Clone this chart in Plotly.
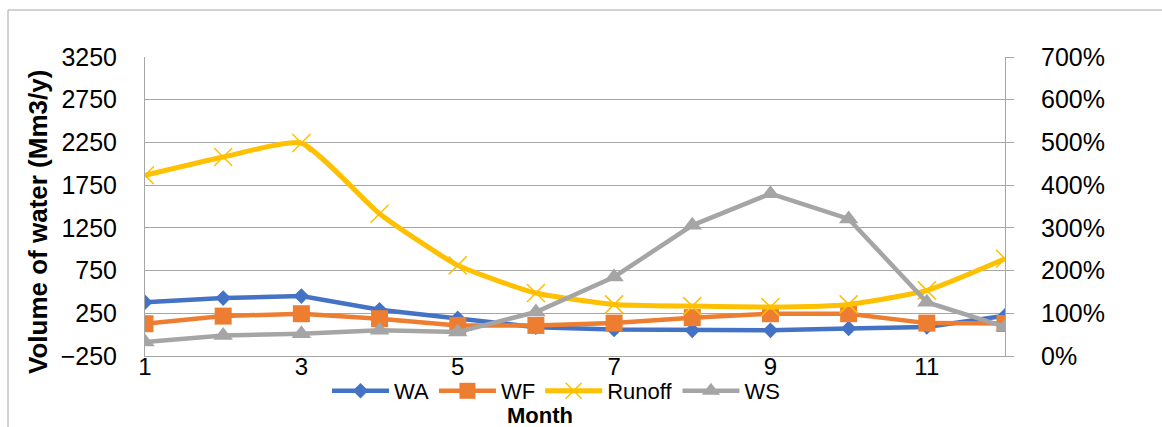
import plotly.graph_objects as go

# Monthly water balance values
months = [1, 2, 3, 4, 5, 6, 7, 8, 9, 10, 11, 12]
wa = [380, 428, 451, 292, 190, 88, 61, 50, 50, 73, 90, 220]            # Mm3/y
wf = [128, 217, 245, 187, 108, 108, 135, 199, 245, 245, 135, 130]      # Mm3/y
runoff = [1865, 2079, 2243, 1416, 811, 487, 354, 334, 323, 354, 518, 889]  # Mm3/y
ws = [33, 48, 52, 60, 56, 103, 185, 306, 380, 321, 126, 68]            # percent

left_ticks = [-250, 250, 750, 1250, 1750, 2250, 2750, 3250]
right_ticks = [0, 100, 200, 300, 400, 500, 600, 700]
right_labels = [f"{v}%" for v in right_ticks]
x_ticks = [1, 3, 5, 7, 9, 11]

W, H = 1162, 427
ML, MR, MT, MB = 145, 157, 57, 71
PW, PH = W - ML - MR, H - MT - MB


def px(x):
    return (x - ML) / PW


def py(y):
    return 1 - (y - MT) / PH


FONT = "Liberation Sans, Arial, sans-serif"
GRID = "#A6A6A6"

fig = go.Figure()
fig.add_trace(go.Scatter(
    x=months, y=wa, name="WA", mode="lines+markers",
    line=dict(color="#4472C4", width=4.5),
    marker=dict(symbol="diamond", size=12, color="#4472C4"),
))
fig.add_trace(go.Scatter(
    x=months, y=wf, name="WF", mode="lines+markers",
    line=dict(color="#ED7D31", width=4.5),
    marker=dict(symbol="square", size=17, color="#ED7D31"),
))
fig.add_trace(go.Scatter(
    x=months, y=runoff, name="Runoff", mode="lines+markers",
    line=dict(color="#FFC000", width=5, shape="spline", smoothing=0.5),
    marker=dict(symbol="x-thin", size=18, color="#FFC000",
                line=dict(color="#FFC000", width=1.5)),
))
fig.add_trace(go.Scatter(
    x=months, y=ws, name="WS", mode="lines+markers", yaxis="y2",
    line=dict(color="#A5A5A5", width=4.5),
    marker=dict(symbol="triangle-up", size=17, color="#A5A5A5"),
))

# outer chart frame
frame = (f"M {px(8)} {py(H + 5)} L {px(8)} {py(10)} L {px(W + 5)} {py(10)}")

fig.update_layout(
    width=W, height=H,
    margin=dict(l=ML, r=MR, t=MT, b=MB),
    paper_bgcolor="white", plot_bgcolor="white",
    font=dict(family=FONT, color="black", size=25),
    showlegend=True,
    legend=dict(orientation="h", x=px(556), y=py(391), xanchor="center",
                yanchor="middle", font=dict(size=22), itemwidth=57,
                tracegroupgap=0, bgcolor="rgba(0,0,0,0)"),
    xaxis=dict(range=[1, 12], tickvals=x_ticks, showgrid=False,
               zeroline=False, showline=True, linecolor=GRID, linewidth=1,
               ticks="", ticklabelstandoff=-11, tickfont=dict(size=24)),
    yaxis=dict(range=[-250, 3250], tickvals=left_ticks, showgrid=True,
               gridcolor=GRID, gridwidth=1, zeroline=False, showline=True,
               linecolor=GRID, linewidth=1, ticks="", ticklabelstandoff=22,
               tickfont=dict(size=25)),
    yaxis2=dict(range=[0, 700], tickvals=right_ticks, ticktext=right_labels,
                overlaying="y", side="right", showgrid=False, zeroline=False,
                showline=True, linecolor=GRID, linewidth=1, ticks="outside",
                ticklen=8, tickcolor=GRID, ticklabelstandoff=22,
                tickfont=dict(size=25)),
    annotations=[
        dict(text="<b>Volume of water (Mm3/y)</b>", textangle=-90,
             x=px(38), y=py(222), xref="paper", yref="paper",
             showarrow=False, font=dict(size=26), xanchor="center",
             yanchor="middle"),
        dict(text="<b>Month</b>", x=px(540), y=py(415), xref="paper",
             yref="paper", showarrow=False, font=dict(size=22),
             xanchor="center", yanchor="middle"),
    ],
    shapes=[dict(type="path", path=frame, xref="paper", yref="paper",
                 line=dict(color="#A6A6A6", width=1))],
)

fig.write_html("out.html")
